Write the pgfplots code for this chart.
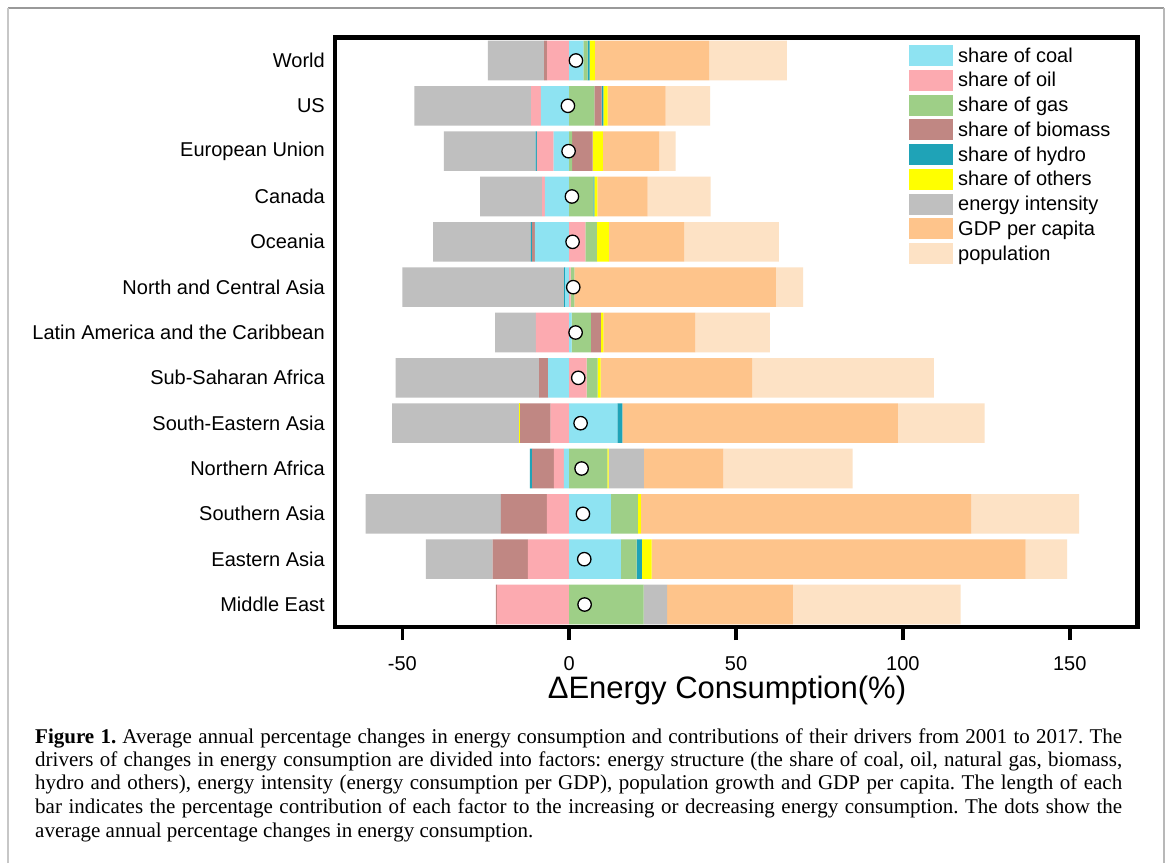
\documentclass[border=0pt]{standalone}
\usepackage{pgfplots}
\pgfplotsset{compat=1.18}
\usepackage{pgfplotstable}
\usepackage{fontspec}
\setmainfont{Liberation Sans}
\newfontfamily\capfont{Liberation Serif}
\definecolor{ccoal}{HTML}{8EE3F2}
\definecolor{coil}{HTML}{FCAAB0}
\definecolor{cgas}{HTML}{9ECF87}
\definecolor{cbio}{HTML}{C08783}
\definecolor{chyd}{HTML}{1FA3B7}
\definecolor{coth}{HTML}{FFFF00}
\definecolor{cint}{HTML}{BFBFBF}
\definecolor{cgdp}{HTML}{FEC48B}
\definecolor{cpop}{HTML}{FDE2C5}

% positive contributions (stacked rightwards from 0)
\pgfplotstableread{
y coal oil gas bio hyd oth int gdp pop
0 4.2 0 1.3 0 0.6 1.6 0 34.2 23.3
1 0 0 7.5 2.2 0.5 1.3 0 17.4 13.3
2 0 0 0.9 6.1 0 3.1 0 16.9 4.9
3 0 0 7.2 0 0.3 0.9 0 15.1 18.9
4 0 4.8 3.5 0 0 3.6 0 22.5 28.4
5 0 0.4 1.1 0 0 0 0 60.4 8.2
6 0.7 0 5.8 3.0 0 0.7 0 27.6 22.3
7 0 5.2 3.3 0 0 0.9 0 45.4 54.5
8 14.4 0 0 0 1.5 0 0 82.6 26.0
9 0 0 11.4 0 0 0.4 10.6 23.8 38.7
10 12.5 0 8.1 0 0 0.9 0 99.0 32.3
11 15.5 0 4.7 0 1.6 2.9 0 112.1 12.4
12 0 0 22.3 0 0 0 7.0 37.7 50.3
}\postab

% negative contributions (stacked leftwards from 0)
\pgfplotstableread{
y coal oil gas bio hyd oth int gdp pop
0 0 -6.6 0 -0.9 0 0 -16.9 0 0
1 -8.5 -2.9 0 0 0 0 -35.0 0 0
2 -4.7 -5.0 0 0 -0.4 0 -27.5 0 0
3 -7.3 -0.8 0 0 0 0 -18.6 0 0
4 -10.3 0 0 -0.8 -0.4 0 -29.3 0 0
5 -1.2 0 0 0 -0.3 0 -48.5 0 0
6 0 -10.0 0 0 0 0 -12.2 0 0
7 -6.3 0 0 -2.7 0 0 -43.0 0 0
8 0 -5.6 0 -9.1 0 -0.4 -38.0 0 0
9 -1.6 -3.0 0 -6.5 -0.7 0 0 0 0
10 0 -6.7 0 -13.8 0 0 -40.5 0 0
11 0 -12.4 0 -10.6 0 0 -20.0 0 0
12 0 -21.6 0 -0.4 0 0 0 0 0
}\negtab

% average annual change in energy consumption (dots)
\pgfplotstableread{
y val
0 2.0
1 -0.4
2 -0.2
3 0.8
4 1.0
5 1.2
6 1.9
7 2.7
8 3.4
9 3.7
10 4.1
11 4.5
12 4.6
}\dottab

\pgfplotsset{
  base/.style={scale only axis, width=802.5pt, height=589.5pt,
    xmin=-70.2, xmax=170.3, ymin=-0.507, ymax=12.496, y dir=reverse,
    at={(736.25pt,530.75pt)}, anchor=center},
  seg/.style={fill=#1, draw=none,
    legend image code/.code={\fill[##1] (0pt,-10.5pt) rectangle (44pt,10.5pt);}},
}

\begin{document}
\frenchspacing
\begin{tikzpicture}
\useasboundingbox (0pt,0pt) rectangle (1168pt,863pt);
\fill[white] (0pt,0pt) rectangle (1168pt,863pt);
\draw[color=black!40, line width=1.3pt] (8pt,855pt) -- (1164pt,855pt);
\draw[color=black!22, line width=1.8pt] (8pt,0pt) -- (8pt,855pt);
\draw[color=black!28, line width=1.5pt] (1164pt,0pt) -- (1164pt,855pt);

% negative side
\begin{axis}[base, hide axis, xbar stacked, bar width=0.874]
\addplot[seg=ccoal] table[x=coal,y=y]{\negtab};
\addplot[seg=coil] table[x=oil,y=y]{\negtab};
\addplot[seg=cgas] table[x=gas,y=y]{\negtab};
\addplot[seg=cbio] table[x=bio,y=y]{\negtab};
\addplot[seg=chyd] table[x=hyd,y=y]{\negtab};
\addplot[seg=coth] table[x=oth,y=y]{\negtab};
\addplot[seg=cint] table[x=int,y=y]{\negtab};
\addplot[seg=cgdp] table[x=gdp,y=y]{\negtab};
\addplot[seg=cpop] table[x=pop,y=y]{\negtab};
\end{axis}

% positive side, frame, ticks, legend
\begin{axis}[base, xbar stacked, bar width=0.874,
  axis line style={line width=4.5pt},
  xtick={-50,0,50,100,150}, xticklabels={-50,0,50,100,150},
  xtick pos=left, xtick align=outside, major tick length=13pt,
  xtick style={line width=3.5pt, black},
  xticklabel style={font=\fontsize{20}{24}\selectfont, inner sep=0pt, yshift=-16pt},
  ytick={0,1,...,12},
  yticklabels={World,US,European Union,Canada,Oceania,North and Central Asia,Latin America and the Caribbean,Sub-Saharan Africa,South-Eastern Asia,Northern Africa,Southern Asia,Eastern Asia,Middle East},
  ytick pos=left, ytick align=inside, ytick style={draw=none},
  yticklabel style={font=\fontsize{20}{24}\selectfont, inner sep=0pt, anchor=east, xshift=-10pt},
  legend cell align=left,
  legend style={draw=none, fill=none, at={(axis description cs:0.7153,0.9873)}, anchor=north west,
    inner sep=0pt, row sep=3.75pt, font=\fontsize{20}{24}\selectfont,
    nodes={inner sep=0pt, inner xsep=5pt, text depth=0.15em}},
]
\addplot[seg=ccoal] table[x=coal,y=y]{\postab};
\addplot[seg=coil] table[x=oil,y=y]{\postab};
\addplot[seg=cgas] table[x=gas,y=y]{\postab};
\addplot[seg=cbio] table[x=bio,y=y]{\postab};
\addplot[seg=chyd] table[x=hyd,y=y]{\postab};
\addplot[seg=coth] table[x=oth,y=y]{\postab};
\addplot[seg=cint] table[x=int,y=y]{\postab};
\addplot[seg=cgdp] table[x=gdp,y=y]{\postab};
\addplot[seg=cpop] table[x=pop,y=y]{\postab};
\legend{share of coal,share of oil,share of gas,share of biomass,share of hydro,share of others,energy intensity,GDP per capita,population}
\end{axis}

% dots
\begin{axis}[base, hide axis]
\addplot[only marks, mark=*, mark size=6.7pt, mark options={fill=white, draw=black, line width=1.3pt}] table[x=val,y=y]{\dottab};
\end{axis}

\node[font=\fontsize{31}{36}\selectfont, inner sep=0pt] at (727pt,173pt) {ΔEnergy Consumption(\%)};

\node[anchor=base west, inner sep=0pt, text width=1087pt, align=justify,
  font=\capfont\fontsize{21}{23.5}\selectfont\frenchspacing] at (35pt,120pt)
  {\textbf{Figure 1.} Average annual percentage changes in energy consumption and contributions of their drivers from 2001 to 2017. The\linebreak
  drivers of changes in energy consumption are divided into factors: energy structure (the share of coal, oil, natural gas, biomass,\linebreak
  hydro and others), energy intensity (energy consumption per GDP), population growth and GDP per capita. The length of each\linebreak
  bar indicates the percentage contribution of each factor to the increasing or decreasing energy consumption. The dots show the\linebreak
  average annual percentage changes in energy consumption.};
\end{tikzpicture}
\end{document}
